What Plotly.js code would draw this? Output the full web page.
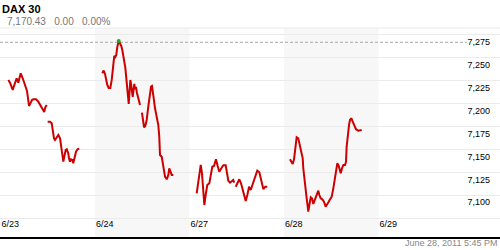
<!DOCTYPE html>
<html>
<head>
<meta charset="utf-8">
<script src="https://cdn.plot.ly/plotly-3.0.1.min.js"></script>
<style>html,body{margin:0;padding:0;background:#fff;}#chart{width:500px;height:250px;}</style>
</head>
<body>
<div id="chart"></div>
<script>
// Day index: 0 = 6/23, 1 = 6/24, 2 = 6/27, 3 = 6/28 (fraction of the day within each)
const dayLabels = ['6/23', '6/24', '6/27', '6/28', '6/29'];
const dayTicks = [0, 1, 2, 3, 4];
const priceTicks = [7075, 7100, 7125, 7150, 7175, 7200, 7225, 7250, 7275];
const priceTickLabels = ['', '7,100', '7,125', '7,150', '7,175', '7,200', '7,225', '7,250', '7,275'];
const shadedDays = [1, 3];
const refLevel = 7267;
const lastPrice = '7,170.43';
const change = '0.00';
const changePct = '0.00%';
const stamp = 'June 28, 2011 5:45 PM';

const time623 = [0.083,0.101,0.129,0.153,0.171,0.188,0.214,0.235,0.252,0.267,0.280,0.294,0.302,0.320,0.333,0.347,0.376,0.400,0.418,0.436,0.453,0.463,0.474,0.489,
  0.494,
  0.499,0.524,0.542,0.552,0.566,0.577,0.595,0.612,0.630,0.640,0.654,0.665,0.675,0.690,0.701,0.717,0.725,0.735,0.746,0.760,0.770,0.781,0.799,0.817,0.834];
const price623 = [7225.9,7222.9,7215.0,7224.0,7227.7,7222.9,7233.2,7227.7,7222.6,7217.1,7214.2,7204.0,7197.5,7201.1,7204.0,7204.8,7204.8,7202.2,7198.6,7196.4,7193.1,7190.9,7196.1,7198.6,
  null,
  7180.3,7180.3,7178.6,7171.3,7162.2,7160.4,7164.0,7165.8,7162.2,7153.1,7142.1,7136.7,7142.1,7149.5,7150.2,7145.9,7140.4,7136.7,7139.3,7138.5,7134.9,7140.4,7147.6,7150.5,7150.9];

const time624 = [1.077,1.092,1.106,1.116,1.130,1.145,1.162,1.177,1.187,1.198,1.204,1.215,1.225,1.236,1.251,1.265,1.278,1.289,1.299,1.310,1.321,1.331,1.339,1.349,1.357,1.367,1.374,1.381,1.392,1.399,1.410,1.416,1.423,1.434,1.444,1.458,1.466,1.476,
  1.490,
  1.497,1.511,1.519,1.532,1.547,1.564,1.582,1.593,1.603,1.611,1.624,1.635,1.653,1.670,1.680,1.688,1.706,1.723,1.741,1.759,1.776,1.786,1.801,1.812,1.829];
const price624 = [7233.2,7236.2,7232.4,7227.0,7220.4,7217.1,7217.1,7225.9,7233.5,7244.4,7252.1,7251.0,7253.2,7261.9,7268.4,7265.7,7263.0,7258.6,7253.2,7247.7,7239.0,7228.1,7217.1,7204.0,7199.7,7215.0,7225.9,7221.5,7212.8,7207.3,7217.1,7221.5,7216.0,7218.2,7211.7,7204.0,7202.9,7198.6,
  null,
  7190.2,7180.3,7174.2,7175.7,7182.2,7196.7,7215.0,7218.6,7219.3,7215.0,7204.0,7195.0,7185.8,7176.7,7164.0,7144.0,7142.1,7133.1,7120.3,7117.5,7122.2,7129.5,7124.0,7122.2,7122.2];

const time627 = [2.076,2.093,2.119,2.132,2.146,2.157,2.171,2.188,2.210,2.228,2.241,2.259,2.280,2.298,2.315,2.337,2.358,2.383,2.397,2.411,2.429,2.447,2.463,2.474,
  2.480,
  2.489,2.506,2.527,2.545,2.569,2.595,2.612,2.630,2.648,2.669,2.693,2.717,2.739,2.764,2.781,2.802,2.823];
const price627 = [7102.2,7113.1,7133.1,7124.0,7105.8,7089.4,7100.3,7111.2,7113.1,7124.0,7131.2,7132.0,7139.3,7132.0,7125.8,7129.5,7132.8,7132.8,7124.0,7115.9,7113.8,7115.3,7116.7,7113.8,
  null,
  7109.4,7113.8,7117.5,7113.1,7102.2,7093.8,7100.3,7109.4,7105.8,7112.0,7119.2,7126.9,7125.1,7114.8,7106.9,7109.4,7109.4];

const time628 = [3.063,3.081,3.092,3.106,3.120,3.134,3.151,3.169,3.187,3.198,3.204,3.215,3.225,3.240,3.251,3.257,3.268,3.283,3.296,3.310,3.328,3.346,3.363,3.374,3.388,3.405,3.423,3.441,3.458,3.473,3.487,3.505,3.522,3.537,3.550,3.564,3.579,3.589,3.600,3.614,3.628,3.646,3.656,3.663,3.674,3.688,3.698,3.712,3.727,3.741,3.762,3.786,3.804,3.822];
const price628 = [7139.3,7136.7,7134.2,7139.3,7149.5,7163.3,7162.2,7154.9,7145.9,7140.4,7129.5,7116.7,7109.4,7096.7,7087.6,7082.1,7089.4,7097.8,7096.7,7090.5,7095.6,7100.3,7105.0,7100.3,7096.7,7095.6,7093.0,7087.6,7091.3,7093.0,7095.6,7098.5,7107.6,7118.6,7127.6,7134.9,7132.0,7128.4,7124.0,7129.5,7133.1,7133.1,7136.7,7153.1,7167.7,7176.7,7182.2,7184.1,7180.3,7176.7,7172.1,7170.5,7171.3,7171.3];

const times = [].concat(time623, [0.95], time624, [1.95], time627, [2.95], time628);
const prices = [].concat(price623, [null], price624, [null], price627, [null], price628);

// highest point marker
let hi = 0;
prices.forEach((p, i) => { if (p !== null && p > prices[hi]) hi = i; });

const font = 'Liberation Sans, Arial, sans-serif';
const X0 = -0.0053, X1 = 5.2857;

const shapes = shadedDays.map(d => ({
  type: 'rect', xref: 'x', yref: 'paper', x0: d, x1: d + 1, y0: 0, y1: 1,
  fillcolor: '#f7f7f7', line: {width: 0}, layer: 'below'
}));
shapes.push({type: 'line', xref: 'paper', yref: 'paper', x0: 0, x1: 1, y0: 1, y1: 1,
  line: {color: '#ebebeb', width: 1}, layer: 'below'});
shapes.push({type: 'line', xref: 'paper', yref: 'y', x0: 0, x1: 0.934, y0: refLevel, y1: refLevel,
  line: {color: '#a8a8a8', width: 1, dash: '3px,2px'}, layer: 'below'});

const data = [
  {x: times, y: prices, type: 'scatter', mode: 'lines', connectgaps: false,
   line: {color: '#cc0000', width: 2}, hoverinfo: 'skip'},
  {x: [times[hi]], y: [prices[hi]], type: 'scatter', mode: 'markers',
   marker: {color: '#22aa22', size: 4}, hoverinfo: 'skip'}
];

const layout = {
  width: 500, height: 250,
  margin: {l: 0, r: 0, t: 28, b: 13, pad: 0},
  paper_bgcolor: '#ffffff', plot_bgcolor: '#ffffff',
  showlegend: false,
  font: {family: font, size: 9, color: '#000'},
  title: {text: '<b>DAX 30</b>', x: 0.004, xanchor: 'left', xref: 'paper',
          y: 0.962, yanchor: 'middle', yref: 'container',
          font: {family: font, size: 11, color: '#000'}},
  xaxis: {range: [X0, X1], tickvals: dayTicks, ticktext: dayLabels,
          showgrid: false, zeroline: false, showline: true, linecolor: '#000', linewidth: 2,
          ticks: '', ticklabelposition: 'inside right', ticklabelstandoff: 4,
          tickfont: {family: font, size: 9, color: '#000'}, fixedrange: true},
  yaxis: {range: [7054.5, 7282.6], side: 'right', tickvals: priceTicks, ticktext: priceTickLabels,
          showgrid: true, gridcolor: '#ebebeb', gridwidth: 1, zeroline: false, showline: false,
          ticks: '', ticklabelposition: 'inside', ticklabelstandoff: 7, ticklabelshift: 7,
          tickfont: {family: font, size: 9, color: '#000'}, fixedrange: true},
  shapes: shapes,
  annotations: [
    {text: lastPrice + '&nbsp;&nbsp;&nbsp;' + change + '&nbsp;&nbsp;&nbsp;' + changePct,
     xref: 'paper', yref: 'paper', x: 0.01, y: 1.033, xanchor: 'left', yanchor: 'middle',
     showarrow: false, font: {family: font, size: 10, color: '#777'}},
    {text: stamp, xref: 'paper', yref: 'paper', x: 0.998, y: -0.03, xanchor: 'right', yanchor: 'middle',
     showarrow: false, font: {family: font, size: 9, color: '#888'}}
  ]
};

Plotly.newPlot('chart', data, layout, {displayModeBar: false, staticPlot: true});
</script>
</body>
</html>
